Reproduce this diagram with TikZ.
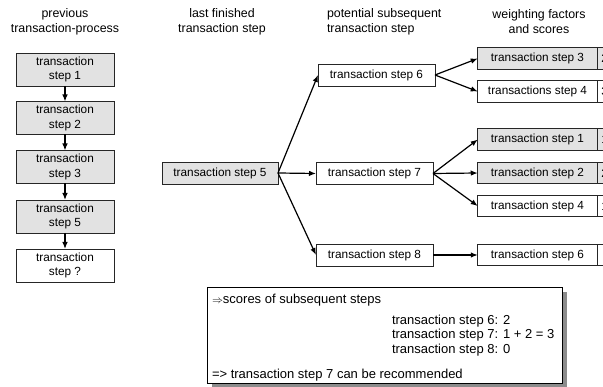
\documentclass[tikz,border=0pt]{standalone}
\usepackage{fontspec}
\setmainfont{Liberation Sans}
\usetikzlibrary{arrows.meta}
\definecolor{boxgray}{RGB}{226,226,226}
\definecolor{shadowgray}{RGB}{140,140,140}
\begin{document}
\begin{tikzpicture}[x=1pt,y=-1pt,
  font=\fontsize{11.8}{14.5}\selectfont,
  every node/.style={inner sep=0pt, outer sep=0pt},
  tbox/.style={draw=black!85, line width=0.9pt, rectangle, align=center},
  done/.style={tbox, fill=boxgray},
  open/.style={tbox, fill=white},
  tall/.style={minimum width=98pt, minimum height=33pt},
  wide/.style={minimum width=117pt, minimum height=22pt},
  rbox/.style={minimum width=119.5pt, minimum height=21.5pt},
  sbox/.style={tbox, minimum width=28pt, minimum height=21.5pt, text width=28pt, align=left},
  head/.style={align=center, font=\fontsize{12.4}{15}\selectfont},
  conn/.style={line width=1.2pt, -{Latex[length=7pt,width=5.5pt]}},
  txt/.style={anchor=west, font=\fontsize{13}{15}\selectfont}
]
\useasboundingbox (0,0) rectangle (603,387);

% headers
\node[head] (h1) at (65,22) {previous\\transaction-process};
\node[head] (h2) at (222,22) {last finished\\transaction step};
\node[head, align=left, anchor=west] (h3) at (327,22) {potential subsequent\\transaction step};
\node[head] (h4) at (539,22) {weighting factors\\and scores};

% left column
\node[done, tall] (p1) at (65,69.5) {transaction\\step 1};
\node[done, tall] (p2) at (65,118) {transaction\\step 2};
\node[done, tall] (p3) at (65,167) {transaction\\step 3};
\node[done, tall] (p5) at (65,216.5) {transaction\\step 5};
\node[open, tall] (pq) at (65,265.5) {transaction\\step ?};
\draw[conn] (p1) -- (p2);
\draw[conn] (p2) -- (p3);
\draw[conn] (p3) -- (p5);
\draw[conn] (p5) -- (pq);

% last finished
\node[done, minimum width=116pt, minimum height=22pt] (s5) at (220,173) {transaction step 5};

% potential subsequent
\node[open, wide] (s6) at (376.5,75) {transaction step 6};
\node[open, wide] (s7) at (374.5,173.5) {transaction step 7};
\node[open, wide] (s8) at (374.5,255) {transaction step 8};
\draw[conn] (s5.east) -- (s6.west);
\draw[conn] (s5.east) -- (s7.west);
\draw[conn] (s5.east) -- (s8.west);

% weighting factors
\node[done, rbox] (r63) at (537.5,58.5) {transaction step 3};
\node[open, rbox] (r64) at (537.5,91.5) {transactions step 4};
\node[done, rbox] (r71) at (537.5,139.5) {transaction step 1};
\node[done, rbox] (r72) at (537.5,173) {transaction step 2};
\node[open, rbox] (r74) at (537.5,206) {transaction step 4};
\node[open, rbox] (r86) at (537.5,255) {transaction step 6};

\node[sbox, fill=boxgray, anchor=west] (c63) at (r63.east) {\hspace*{4pt}2};
\node[sbox, fill=white, anchor=west] (c64) at (r64.east) {\hspace*{4pt}3};
\node[sbox, fill=boxgray, anchor=west] (c71) at (r71.east) {\hspace*{4pt}1};
\node[sbox, fill=boxgray, anchor=west] (c72) at (r72.east) {\hspace*{4pt}2};
\node[sbox, fill=white, anchor=west] (c74) at (r74.east) {\hspace*{4pt}1};
\node[sbox, fill=white, anchor=west] (c86) at (r86.east) {};

\draw[conn] (s6.east) -- (r63.west);
\draw[conn] (s6.east) -- (r64.west);
\draw[conn] (s7.east) -- (r71.west);
\draw[conn] (s7.east) -- (r72.west);
\draw[conn] (s7.east) -- (r74.west);
\draw[conn] (s8.east) -- (r86.west);

% summary box with shadow
\fill[shadowgray] (211.5,292.5) rectangle (566.5,388.5);
\node[draw=black, line width=1pt, fill=white, minimum width=355pt, minimum height=96pt] (sum) at (384.5,336) {};
\node[txt] (t0) at (212,300) {{\fontsize{11}{13}\selectfont$\Rightarrow$}scores of subsequent steps};
\node[txt] (t1) at (392,321) {transaction step 6: 2};
\node[txt] (t2) at (392,335.5) {transaction step 7: 1 + 2 = 3};
\node[txt] (t3) at (392,350) {transaction step 8: 0};
\node[txt] (t4) at (212,375) {=> transaction step 7 can be recommended};
\end{tikzpicture}
\end{document}
